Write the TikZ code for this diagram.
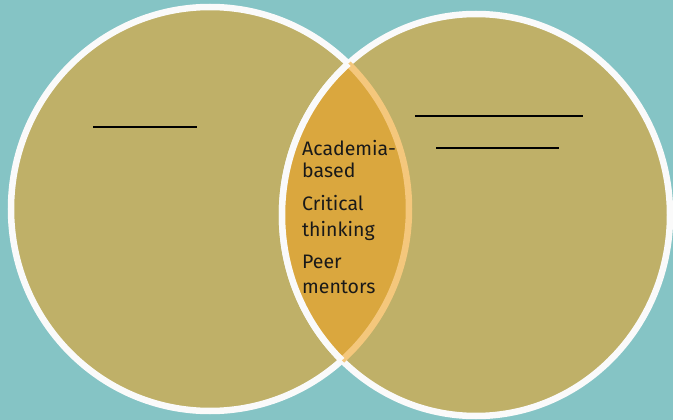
\documentclass[tikz,border=0pt]{standalone}
\usepackage{fontspec}
\setmainfont{Fira Sans}
\definecolor{bgteal}{HTML}{85C4C5}
\definecolor{olive}{HTML}{BFB068}
\definecolor{lensorange}{HTML}{DAA73E}
\definecolor{lensedge}{HTML}{F4C77C}
\definecolor{ringwhite}{HTML}{FAFAFA}
\tikzset{
  ring/.style={draw=ringwhite, line width=6.5pt},
  blank/.style={draw=black, line width=2.2pt},
  lbl/.style={anchor=base west, inner sep=0pt, font=\fontsize{19.5}{24}\selectfont, text=black!90}
}
\begin{document}
\begin{tikzpicture}[x=1pt,y=-1pt]
\fill[bgteal] (0,0) rectangle (673,420);
\useasboundingbox (0,0) rectangle (673,420);
% circles
\fill[olive] (210,209) ellipse [x radius=199, y radius=202];
\draw[ring] (210,209) ellipse [x radius=199, y radius=202];
\fill[olive] (476,215) ellipse [x radius=194, y radius=201];
\draw[ring] (476,215) ellipse [x radius=194, y radius=201];
% lens
\begin{scope}
  \clip (476,215) ellipse [x radius=194, y radius=201];
  \fill[lensorange] (210,209) ellipse [x radius=199, y radius=202];
  \draw[lensedge, line width=6.5pt] (210,209) ellipse [x radius=199, y radius=202];
\end{scope}
\begin{scope}
  \clip (210,209) ellipse [x radius=199, y radius=202];
  \draw[ring] (476,215) ellipse [x radius=194, y radius=201];
\end{scope}
% blank lines
\coordinate (l1a) at (93,127);  \coordinate (l1b) at (197,127);
\coordinate (r1a) at (415,116); \coordinate (r1b) at (583,116);
\coordinate (r2a) at (436,148); \coordinate (r2b) at (559,148);
\draw[blank] (l1a) -- (l1b);
\draw[blank] (r1a) -- (r1b);
\draw[blank] (r2a) -- (r2b);
% labels
\node[lbl] (t1) at (302,156) {Academia-};
\node[lbl] (t2) at (302,177) {based};
\node[lbl] (t3) at (302,210) {Critical};
\node[lbl] (t4) at (302,236) {thinking};
\node[lbl] (t5) at (302,268) {Peer};
\node[lbl] (t6) at (302,293) {mentors};
\end{tikzpicture}
\end{document}
